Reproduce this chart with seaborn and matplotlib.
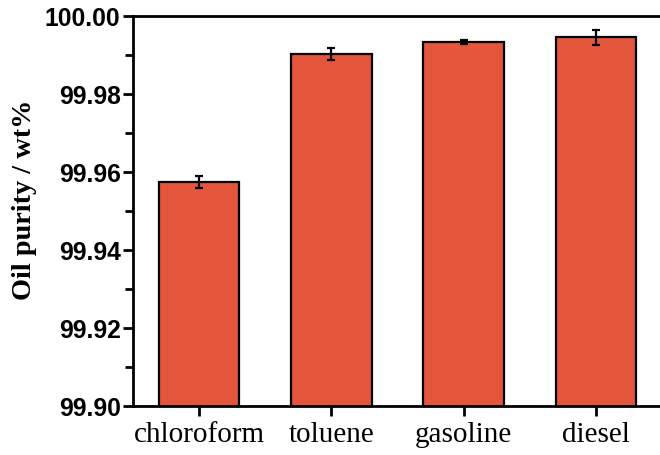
import matplotlib
matplotlib.use("Agg")
import matplotlib.pyplot as plt
from matplotlib.ticker import MultipleLocator
import seaborn as sns
import pandas as pd

solvents = ["chloroform", "toluene", "gasoline", "diesel"]
purity = [99.9574, 99.9903, 99.9933, 99.9945]
purity_err = [0.0015, 0.0015, 0.0005, 0.0019]

sns.set_style("ticks")
plt.rcParams["font.family"] = ["Liberation Sans", "DejaVu Sans"]
plt.rcParams["text.color"] = "black"
plt.rcParams["axes.labelcolor"] = "black"
plt.rcParams["xtick.color"] = "black"
plt.rcParams["ytick.color"] = "black"

df = pd.DataFrame({"solvent": solvents, "purity": purity})

fig = plt.figure(figsize=(6.6, 4.56), dpi=100)
ax = fig.add_axes([133 / 660, 49 / 456, 529 / 660, 390 / 456])

sns.barplot(data=df, x="solvent", y="purity", color="#E4563C", saturation=1,
            width=0.61, edgecolor="black", linewidth=1.6, errorbar=None, ax=ax)
ax.errorbar(range(len(solvents)), purity, yerr=purity_err, fmt="none",
            ecolor="black", elinewidth=1.6, capsize=3.2, capthick=1.6)

ax.set_ylim(99.90, 100.00)
ax.set_xlim(-0.5, 3.5)
ax.yaxis.set_major_locator(MultipleLocator(0.02))
ax.yaxis.set_minor_locator(MultipleLocator(0.01))
ax.yaxis.set_major_formatter(matplotlib.ticker.FormatStrFormatter("%.2f"))

for sp in ax.spines.values():
    sp.set_linewidth(2)
    sp.set_color("black")

ax.tick_params(axis="y", which="major", direction="out", length=7, width=2,
               labelsize=17.8, pad=2, colors="black")
ax.tick_params(axis="y", which="minor", direction="out", length=6, width=2,
               colors="black")
ax.tick_params(axis="x", direction="out", length=7, width=2, labelsize=21,
               pad=4, colors="black")
for lbl in ax.get_yticklabels():
    lbl.set_fontweight("bold")
for lbl in ax.get_xticklabels():
    lbl.set_fontfamily(["Liberation Serif", "DejaVu Serif"])

ax.set_xlabel("")
ax.set_ylabel("Oil purity / wt%", fontsize=20.3, fontweight="bold",
              family=["Liberation Serif", "DejaVu Serif"], color="black")
ax.yaxis.set_label_coords(-0.182, 0.531)

fig.savefig("out.png", dpi=100)
